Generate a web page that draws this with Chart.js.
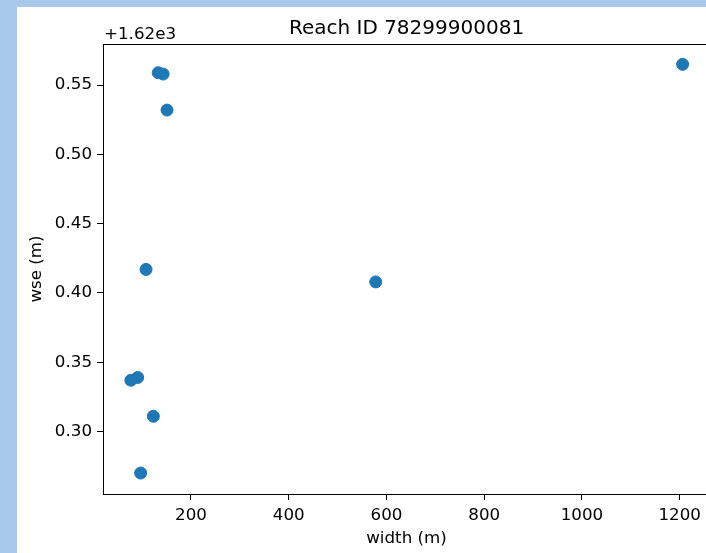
<!DOCTYPE html>
<html>
<head>
<meta charset="utf-8">
<script src="https://cdn.jsdelivr.net/npm/chart.js@4"></script>
<style>
  html, body { margin: 0; padding: 0; overflow: hidden; background: #a8c9ec; width: 706px; height: 553px; }
  #wrap { position: absolute; left: 17px; top: 7px; width: 700px; height: 546px; background: #fff; }
  canvas { display: block; }
</style>
</head>
<body>
<div id="wrap"><canvas id="chart" width="700" height="546"></canvas></div>
<script>
const chartTitle = "Reach ID 78299900081"
const offsetLabel = "+1.62e3"
const wseOffset = 1620

// width (m) and water surface elevation (m) for each observation
const widths = [133, 143, 151, 1206, 108, 578, 77, 91, 123, 97]
const wse = [1620.559, 1620.558, 1620.532, 1620.565, 1620.417, 1620.408, 1620.337, 1620.339, 1620.311, 1620.270]

const xTicks = [200, 400, 600, 800, 1000, 1200]
const yTicks = [0.30, 0.35, 0.40, 0.45, 0.50, 0.55]

const FONT = "DejaVu Sans"
const TICK_SIZE = 16.7

const framePlugin = {
  id: "frame",
  afterDraw(chart) {
    const { ctx, chartArea: a } = chart
    ctx.save()
    ctx.strokeStyle = "#000"
    ctx.lineWidth = 1
    ctx.strokeRect(a.left + 0.5, a.top + 0.5, a.right - a.left, a.bottom - a.top)
    ctx.fillStyle = "#000"
    ctx.textBaseline = "alphabetic"
    ctx.font = `20px "${FONT}"`
    ctx.textAlign = "center"
    ctx.fillText(chartTitle, (a.left + a.right) / 2, a.top - 10)
    ctx.font = `${TICK_SIZE}px "${FONT}"`
    ctx.textAlign = "left"
    ctx.fillText(offsetLabel, a.left + 1, a.top - 5)
    ctx.restore()
  }
}

const points = widths.map((w, i) => ({ x: w, y: wse[i] }))

new Chart(document.getElementById("chart"), {
  type: "scatter",
  data: {
    datasets: [{
      data: points,
      backgroundColor: "#1f77b4",
      borderColor: "#1f77b4",
      borderWidth: 1,
      pointRadius: 6,
      pointHoverRadius: 6
    }]
  },
  options: {
    responsive: false,
    animation: false,
    events: [],
    layout: { padding: { left: 0, top: 37, right: 7, bottom: 0 } },
    plugins: { legend: { display: false }, tooltip: { enabled: false } },
    scales: {
      x: {
        type: "linear",
        min: 20,
        max: 1262,
        afterBuildTicks: scale => { scale.ticks = xTicks.map(v => ({ value: v })) },
        afterFit: scale => { scale.height = 59 },
        ticks: { color: "#000", font: { family: FONT, size: TICK_SIZE }, padding: 6, maxRotation: 0,
          callback: v => String(v) },
        grid: { drawOnChartArea: false, tickLength: 6, tickColor: "#000", tickWidth: 1 },
        border: { color: "#000", width: 1 },
        title: { display: true, text: "width (m)", color: "#000", font: { family: FONT, size: TICK_SIZE },
          padding: { top: 0, bottom: 4 } }
      },
      y: {
        type: "linear",
        min: wseOffset + 0.2549,
        max: wseOffset + 0.5797,
        afterBuildTicks: scale => { scale.ticks = yTicks.map(v => ({ value: wseOffset + v })) },
        afterFit: scale => { scale.width = 86 },
        ticks: { color: "#000", font: { family: FONT, size: TICK_SIZE }, padding: 5,
          callback: v => (v - wseOffset).toFixed(2) },
        grid: { drawOnChartArea: false, tickLength: 6, tickColor: "#000", tickWidth: 1 },
        border: { color: "#000", width: 1 },
        title: { display: true, text: "wse (m)", color: "#000", font: { family: FONT, size: TICK_SIZE },
          padding: { top: 10, bottom: 0 } }
      }
    }
  },
  plugins: [framePlugin]
})
</script>
</body>
</html>
